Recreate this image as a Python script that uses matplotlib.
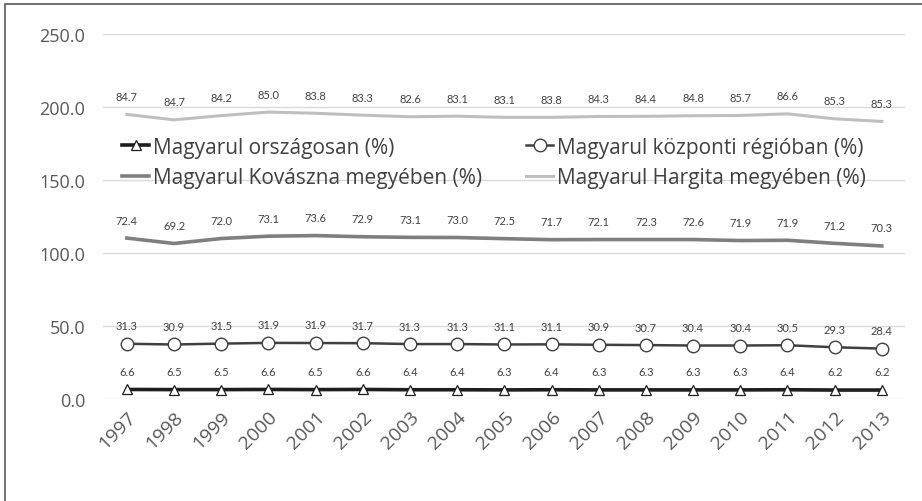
import matplotlib.pyplot as plt
from matplotlib.patches import Rectangle

# ==========================
# DATA
# ==========================
years = [str(y) for y in range(1997, 2014)]

orszagosan = [6.6, 6.5, 6.5, 6.6, 6.5, 6.6, 6.4, 6.4, 6.3, 6.4, 6.3, 6.3, 6.3, 6.3, 6.4, 6.2, 6.2]
kozponti = [31.3, 30.9, 31.5, 31.9, 31.9, 31.7, 31.3, 31.3, 31.1, 31.1, 30.9, 30.7, 30.4, 30.4, 30.5, 29.3, 28.4]
kovaszna = [72.4, 69.2, 72.0, 73.1, 73.6, 72.9, 73.1, 73.0, 72.5, 71.7, 72.1, 72.3, 72.6, 71.9, 71.9, 71.2, 70.3]
hargita = [84.7, 84.7, 84.2, 85.0, 83.8, 83.3, 82.6, 83.1, 83.1, 83.8, 84.3, 84.4, 84.8, 85.7, 86.6, 85.3, 85.3]

series = [
    ("Magyarul országosan (%)", orszagosan),
    ("Magyarul központi régióban (%)", kozponti),
    ("Magyarul Kovászna megyében (%)", kovaszna),
    ("Magyarul Hargita megyében (%)", hargita),
]

styles = [
    dict(color="#1e1e1e", lw=2.6, marker="^", ms=7.5, mfc="white", mec="#1e1e1e", mew=0.9),
    dict(color="#404040", lw=1.8, marker="o", ms=9, mfc="white", mec="#404040", mew=1.0),
    dict(color="#7f7f7f", lw=2.6, marker=None),
    dict(color="#bfbfbf", lw=2.2, marker=None),
]

plt.rcParams["font.family"] = ["Open Sans", "DejaVu Sans"]

fig = plt.figure(figsize=(9.22, 5.02), dpi=100)
ax = fig.add_axes([0.112, 0.203, 0.870, 0.727])

# outer frame of the chart object
fig.patches.append(Rectangle((5 / 922, -0.05), 1.2, 1 - 5 / 502 + 0.05,
                             transform=fig.transFigure, fill=False,
                             edgecolor="#595959", lw=1.2))

x = list(range(len(years)))
cum = [0.0] * len(years)

for (name, vals), st in zip(series, styles):
    cum = [c + v for c, v in zip(cum, vals)]
    ax.plot(x, cum, label=name, zorder=3, **st)
    for xi, yi, v in zip(x, cum, vals):
        ax.annotate(f"{v:.1f}", (xi, yi), xytext=(0, 13), textcoords="offset points",
                    ha="center", va="center", fontsize=8, color="#404040",
                    family=["Lato", "DejaVu Sans"])

ax.set_xlim(-0.5, len(years) - 0.5)
ax.set_ylim(0, 250)
ax.set_yticks([0, 50, 100, 150, 200, 250])
ax.set_yticklabels([f"{t:.1f}" for t in [0, 50, 100, 150, 200, 250]])
ax.set_xticks(x)
ax.set_xticklabels(years, rotation=45, ha="right", rotation_mode="anchor")

ax.tick_params(axis="y", length=0, labelsize=13, labelcolor="#595959", pad=13)
ax.tick_params(axis="x", length=0, labelsize=14, labelcolor="#595959", pad=6)

for s in ax.spines.values():
    s.set_visible(False)
ax.grid(axis="y", color="#d9d9d9", lw=1)
ax.set_axisbelow(True)

# legend rows: orszagosan | kozponti, kovaszna | hargita
h, l = ax.get_legend_handles_labels()
order = [0, 2, 1, 3]
ax.legend([h[i] for i in order], [l[i] for i in order],
          loc="center left", bbox_to_anchor=(0.0, 0.649), ncol=2, frameon=False,
          fontsize=15, handlelength=1.3, handletextpad=0.2, columnspacing=2.1,
          labelcolor="#404040", labelspacing=0.45)

plt.savefig("out.png", dpi=100)
